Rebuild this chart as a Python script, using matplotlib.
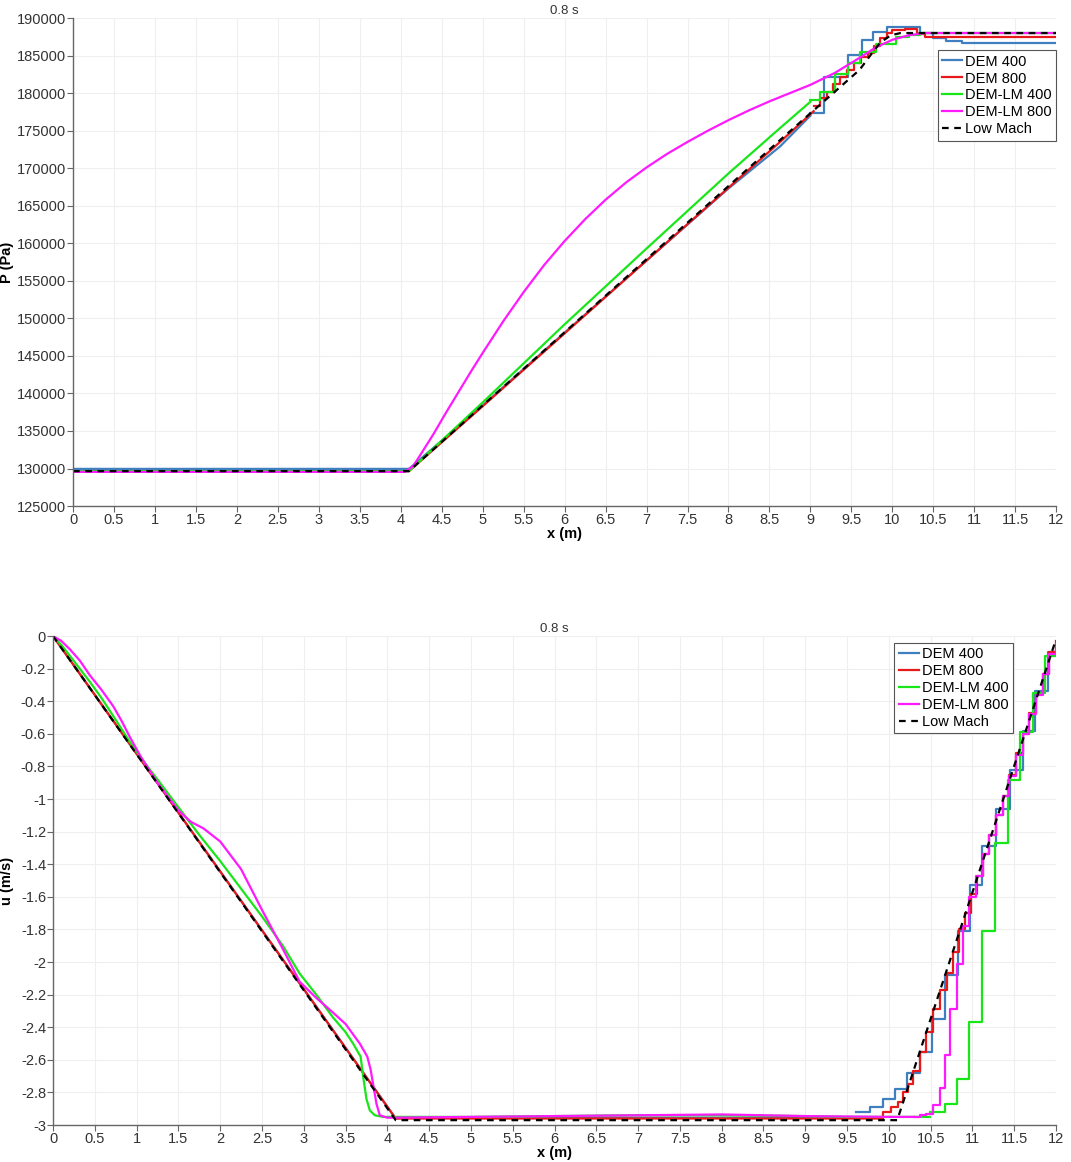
import numpy as np
import matplotlib
matplotlib.use("Agg")
import matplotlib.pyplot as plt
from matplotlib.ticker import MultipleLocator, FormatStrFormatter

# ---------------- pressure, t = 0.8 s ----------------
# Low Mach reference
p_lm_x = [0, 4.1, 8.63, 9.6, 9.75, 9.85, 9.98, 10.1, 12]
p_lm_y = [129650, 129650, 173750, 183100, 185300, 186700, 187700, 188000, 188000]

# DEM 400: smooth part then stepped part
p_d400_x = [0, 4.1, 5, 6, 7, 8, 8.63, 9.0]
p_d400_y = [129950, 129950, 138400, 148100, 157700, 167300, 172900, 177000]
p_d400_sx = [9.0, 9.16, 9.46, 9.63, 9.76, 9.94, 10.34, 10.5, 10.65, 10.85, 12]
p_d400_sy = [177400, 182100, 185100, 187100, 188200, 188800, 188000, 187400, 187000, 186700, 186700]

# DEM 800
p_d800_x = [0, 4.1, 5, 6, 7, 8, 8.63, 9.04]
p_d800_y = [129650, 129650, 138300, 148000, 157700, 167400, 173500, 177600]
p_d800_sx = [9.04, 9.12, 9.2, 9.28, 9.36, 9.45, 9.53, 9.62, 9.7, 9.78, 9.85, 9.93, 10.0, 10.15, 10.3, 10.4, 12]
p_d800_sy = [178300, 179300, 180200, 181200, 182200, 183100, 184000, 184800, 185400, 186300, 187300, 188000,
             188400, 188500, 187900, 187500, 187500]

# DEM-LM 400
p_l400_x = [0, 4.1, 5, 6, 7, 8, 8.63, 9.0]
p_l400_y = [129650, 129650, 138800, 149200, 159300, 169300, 175350, 178850]
p_l400_sx = [9.0, 9.12, 9.3, 9.46, 9.6, 9.8, 10.05, 10.2, 10.34, 12]
p_l400_sy = [179100, 180200, 182600, 184000, 185500, 186600, 187500, 187700, 188000, 188000]

# DEM-LM 800
p_l800_x = [0, 4.05, 4.15, 4.25, 4.4, 4.55, 4.7, 4.85, 5, 5.25, 5.5, 5.75, 6, 6.25, 6.5, 6.75, 7, 7.25, 7.5,
            7.75, 8, 8.25, 8.5, 8.75, 9, 9.3, 9.6, 9.8, 10.0, 10.2, 10.4, 12]
p_l800_y = [129550, 129550, 130300, 132000, 134600, 137400, 140100, 142800, 145400, 149600, 153500, 157100,
            160300, 163200, 165800, 168100, 170100, 171900, 173500, 175000, 176400, 177700, 178900, 180000,
            181100, 182700, 184700, 186100, 187100, 187700, 188000, 188000]

# ---------------- velocity, t = 0.8 s ----------------
u_lm_x = [0, 4.1, 10.1, 12]
u_lm_y = [0, -2.97, -2.97, -0.02]

u_d400_x = [0, 4.1, 4.2, 9.61]
u_d400_y = [0, -2.96, -2.955, -2.955]
u_d400_sx = [9.61, 9.77, 9.93, 10.07, 10.22, 10.37, 10.52, 10.67, 10.83, 10.97, 11.12, 11.28, 11.45, 11.6, 11.75, 11.9, 12]
u_d400_sy = [-2.92, -2.89, -2.84, -2.78, -2.68, -2.55, -2.35, -2.08, -1.81, -1.53, -1.29, -1.06, -0.82, -0.58,
             -0.34, -0.1, -0.1]

u_d800_x = [0, 4.1, 4.2, 9.9]
u_d800_y = [0, -2.96, -2.96, -2.96]
u_d800_sx = [9.9, 9.93, 10.03, 10.11, 10.17, 10.23, 10.29, 10.37, 10.45, 10.53, 10.61, 10.69, 10.77, 10.84, 10.91,
             10.98, 11.05, 11.13, 11.2, 11.28, 11.36, 11.44, 11.52, 11.6, 11.68, 11.76, 11.84, 11.92, 12]
u_d800_sy = [-2.96, -2.92, -2.89, -2.86, -2.8, -2.75, -2.67, -2.55, -2.43, -2.29, -2.17, -2.07, -1.94, -1.8, -1.7,
             -1.58, -1.47, -1.34, -1.22, -1.1, -0.98, -0.85, -0.72, -0.6, -0.47, -0.35, -0.23, -0.1, -0.03]

u_l400_x = [0, 0.1, 0.2, 0.32, 0.44, 0.58, 0.72, 0.92, 1.1, 1.25, 1.5, 1.75, 2.0, 2.25, 2.5, 2.75, 2.95, 3.15,
            3.35, 3.5, 3.59, 3.68, 3.71, 3.75, 3.79, 3.85, 3.95, 5, 6, 7, 8, 9, 9.5, 10.49]
u_l400_y = [0, -0.055, -0.12, -0.2, -0.28, -0.38, -0.49, -0.65, -0.78, -0.88, -1.05, -1.22, -1.38, -1.55, -1.72,
            -1.9, -2.07, -2.2, -2.34, -2.43, -2.5, -2.58, -2.7, -2.84, -2.91, -2.94, -2.95, -2.95, -2.945, -2.94,
            -2.94, -2.945, -2.95, -2.95]
u_l400_sx = [10.49, 10.67, 10.82, 10.96, 11.12, 11.27, 11.43, 11.57, 11.73, 11.87, 12]
u_l400_sy = [-2.92, -2.87, -2.72, -2.37, -1.81, -1.27, -0.88, -0.59, -0.35, -0.12, -0.12]

u_l800_x = [0, 0.1, 0.2, 0.32, 0.44, 0.58, 0.72, 0.82, 0.92, 1.05, 1.25, 1.5, 1.65, 1.8, 2.0, 2.25, 2.5, 2.75,
            2.95, 3.15, 3.35, 3.5, 3.67, 3.76, 3.8, 3.83, 3.87, 3.91, 4.0, 5, 6, 7, 8, 9, 10, 10.3]
u_l800_y = [0, -0.03, -0.08, -0.15, -0.24, -0.33, -0.43, -0.52, -0.62, -0.74, -0.9, -1.07, -1.14, -1.18, -1.26,
            -1.43, -1.68, -1.92, -2.12, -2.22, -2.31, -2.38, -2.5, -2.58, -2.66, -2.75, -2.87, -2.94, -2.955,
            -2.95, -2.945, -2.94, -2.935, -2.945, -2.95, -2.95]
u_l800_sx = [10.3, 10.37, 10.45, 10.53, 10.61, 10.67, 10.73, 10.82, 10.89, 10.96, 11.04, 11.13, 11.2, 11.28,
             11.36, 11.44, 11.52, 11.6, 11.68, 11.76, 11.84, 11.92, 12]
u_l800_sy = [-2.95, -2.94, -2.93, -2.88, -2.77, -2.57, -2.29, -2.01, -1.78, -1.6, -1.47, -1.34, -1.22, -1.1,
             -0.98, -0.86, -0.73, -0.6, -0.48, -0.36, -0.23, -0.11, -0.05]

labels = ["DEM 400", "DEM 800", "DEM-LM 400", "DEM-LM 800", "Low Mach"]
colors = ["#3f7fbf", "#e8191a", "#19e619", "#ff19ff", "black"]

plt.rcParams["font.family"] = ["Liberation Sans", "DejaVu Sans"]
fig = plt.figure(figsize=(10.71, 11.62), dpi=100)
ax1 = fig.add_axes([0.0682, 0.5645, 0.918, 0.42])
ax2 = fig.add_axes([0.0495, 0.0318, 0.9365, 0.4208])

lw = 1.6


def draw(ax, smooth, steps, lm):
    for i in range(4):
        sx, sy = smooth[i]
        ax.plot(sx, sy, color=colors[i], lw=lw, label=labels[i])
        tx, ty = steps[i]
        if tx is not None:
            ax.plot(tx, ty, color=colors[i], lw=lw, drawstyle="steps-post")
    ax.plot(lm[0], lm[1], color="black", lw=lw, ls=(0, (3, 2.5)), label=labels[4])


draw(ax1,
     [(p_d400_x, p_d400_y), (p_d800_x, p_d800_y), (p_l400_x, p_l400_y), (p_l800_x, p_l800_y)],
     [(p_d400_sx, p_d400_sy), (p_d800_sx, p_d800_sy), (p_l400_sx, p_l400_sy), (None, None)],
     (p_lm_x, p_lm_y))
draw(ax2,
     [(u_d400_x, u_d400_y), (u_d800_x, u_d800_y), (u_l400_x, u_l400_y), (u_l800_x, u_l800_y)],
     [(u_d400_sx, u_d400_sy), (u_d800_sx, u_d800_sy), (u_l400_sx, u_l400_sy), (u_l800_sx, u_l800_sy)],
     (u_lm_x, u_lm_y))

for ax in (ax1, ax2):
    ax.set_xlim(0, 12)
    ax.xaxis.set_major_locator(MultipleLocator(0.5))
    ax.xaxis.set_major_formatter(FormatStrFormatter("%g"))
    ax.grid(True, color="#efefef", lw=0.8)
    ax.set_axisbelow(True)
    for s in ("top", "right"):
        ax.spines[s].set_visible(False)
    for s in ("left", "bottom"):
        ax.spines[s].set_color("#666666")
        ax.spines[s].set_linewidth(1.0)
    ax.tick_params(direction="out", length=4, width=0.8, color="#666666", labelcolor="#333333",
                   labelsize=10.5, pad=1)
    ax.set_xlabel("x (m)", fontweight="bold", fontsize=10.5, labelpad=0)
    ax.set_title("0.8 s", fontsize=9.5, pad=3, color="#333333")

ax1.set_ylim(125000, 190000)
ax1.yaxis.set_major_locator(MultipleLocator(5000))
ax1.yaxis.set_major_formatter(FormatStrFormatter("%d"))
ax1.set_ylabel("P (Pa)", fontweight="bold", fontsize=10.5)
ax1.yaxis.set_label_coords(-0.06, 0.5)

ax2.set_ylim(-3, 0)
ax2.yaxis.set_major_locator(MultipleLocator(0.2))
ax2.yaxis.set_major_formatter(FormatStrFormatter("%g"))
ax2.set_ylabel("u (m/s)", fontweight="bold", fontsize=10.5)
ax2.yaxis.set_label_coords(-0.039, 0.5)

leg_kw = dict(fontsize=10.5, handlelength=1.4, handletextpad=0.2, labelspacing=0.2, borderpad=0.3,
              fancybox=False, edgecolor="#555555", framealpha=1, borderaxespad=0)
l1 = ax1.legend(loc="upper right", bbox_to_anchor=(1.0, 0.934), **leg_kw)
l2 = ax2.legend(loc="upper right", bbox_to_anchor=(0.957, 0.986), **leg_kw)
for l in (l1, l2):
    l.get_frame().set_linewidth(0.8)

fig.savefig("out.png", dpi=100)
